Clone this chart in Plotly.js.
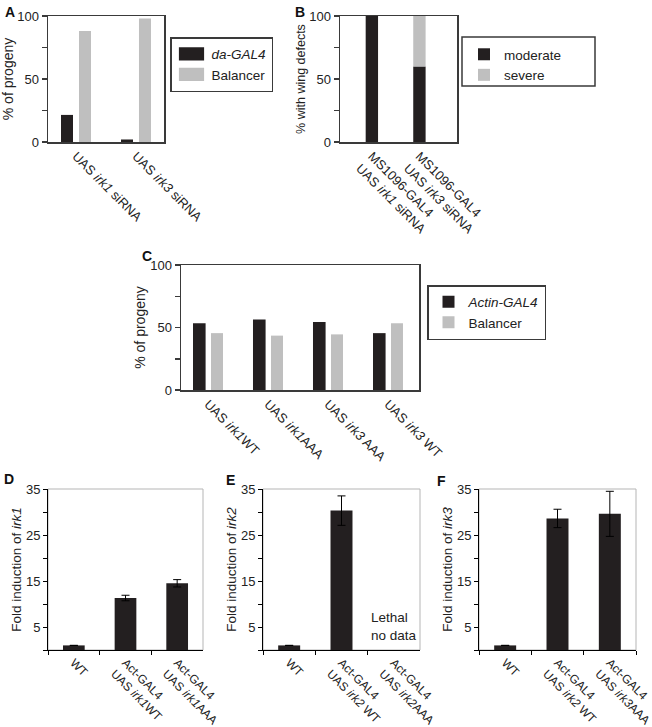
<!DOCTYPE html>
<html><head><meta charset="utf-8">
<script src="https://cdn.plot.ly/plotly-3.0.1.min.js"></script>
<style>html,body{margin:0;padding:0;background:#fff}#chart{width:652px;height:727px}</style>
</head><body><div id="chart"></div>
<script>
// ---------- data ----------
// Panel A
const catsA = ['UAS <i>irk1</i> siRNA', 'UAS <i>irk3</i> siRNA'];
const daGal4A = [21.5, 2];
const balancerA = [88, 98];
// Panel B
const catsB = ['MS1096-GAL4<br>UAS <i>irk1</i> siRNA', 'MS1096-GAL4<br>UAS <i>irk3</i> siRNA'];
const moderateB = [100, 60];
const severeB = [0, 40];
// Panel C
const catsC = ['UAS <i>irk1</i>WT', 'UAS <i>irk1</i>AAA', 'UAS <i>irk3</i> AAA', 'UAS <i>irk3</i> WT'];
const actinC = [53.5, 56.5, 54.5, 45.5];
const balancerC = [45.5, 43.5, 44.5, 53.5];
// Panel D
const catsD = ['WT', 'Act-GAL4<br>UAS <i>irk1</i>WT', 'Act-GAL4<br>UAS <i>irk1</i>AAA'];
const foldD = [1, 11.3, 14.5];
const errD = [null, 0.6, 0.8];
// Panel E
const catsE = ['WT', 'Act-GAL4<br>UAS <i>irk2</i> WT', 'Act-GAL4<br>UAS <i>irk2</i>AAA'];
const foldE = [1, 30.3, null];
const errE = [null, 3.2, null];
// Panel F
const catsF = ['WT', 'Act-GAL4<br>UAS <i>irk2</i> WT', 'Act-GAL4<br>UAS <i>irk3</i>AAA'];
const foldF = [1, 28.6, 29.6];
const errF = [null, 2.0, 4.9];
// tick labels
const pctTicks = [0, 25, 50, 75, 100];
const pctTickText = ['0', '', '50', '', '100'];
const foldTicks = [0, 5, 10, 15, 20, 25, 30, 35];
const foldTickText = ['', '5', '', '15', '', '25', '', '35'];

// ---------- layout helpers ----------
const W = 652, H = 727;
const px = (l, r) => [l / W, r / W];
const py = (t, b) => [1 - b / H, 1 - t / H];
const FONT = '"Liberation Sans",Arial,sans-serif';
const BLACK = '#231f20', GRAY = '#bfbfbf', LINE = '#3a3a3a', TXT = '#222';

function boxX(dom, anchor, range) {
  return {domain: dom, anchor: anchor, type: 'category', range: range, showline: true, mirror: true,
    linecolor: LINE, linewidth: 1.5, ticks: '', tickangle: 45, tickfont: {size: 13, color: TXT},
    showgrid: false, zeroline: false, fixedrange: true};
}
function boxY(dom, anchor, title, tsize) {
  return {domain: dom, anchor: anchor, range: [0, 100], tickvals: pctTicks, ticktext: pctTickText,
    ticks: 'outside', ticklen: 5, tickwidth: 1.5, tickcolor: LINE, showline: true, mirror: true,
    linecolor: LINE, linewidth: 1.5, showgrid: false, zeroline: false, tickfont: {size: 13, color: TXT},
    title: {text: title, font: {size: tsize, color: TXT}, standoff: 1}, fixedrange: true};
}
function foldX(dom, anchor) {
  return {domain: dom, anchor: anchor, type: 'category', range: [-0.5, 2.5], showline: true,
    linecolor: '#000', linewidth: 1, ticks: 'outside', tickson: 'boundaries', ticklen: 4, tickcolor: '#000',
    tickangle: 45, tickfont: {size: 12, color: TXT}, showgrid: false, zeroline: false, fixedrange: true};
}
function foldY(dom, anchor, title) {
  return {domain: dom, anchor: anchor, range: [0, 35], tickvals: foldTicks, ticktext: foldTickText,
    ticks: 'outside', ticklen: 4, tickcolor: '#000', showline: true, linecolor: '#000', linewidth: 1,
    showgrid: false, zeroline: false, tickfont: {size: 13, color: TXT},
    title: {text: title, font: {size: 13.5, color: TXT}, standoff: 1}, fixedrange: true};
}
function foldBar(x, y, err, xa, ya) {
  return {type: 'bar', x: x, y: y, xaxis: xa, yaxis: ya, width: 0.42, showlegend: false,
    marker: {color: BLACK, line: {width: 0}},
    error_y: {type: 'data', array: err, visible: true, color: '#000', thickness: 1, width: 4}};
}

const traces = [
  {type: 'bar', x: catsA, y: daGal4A, name: '<i>da-GAL4</i>', xaxis: 'x', yaxis: 'y', legend: 'legend',
    width: 0.2, offset: -0.25, marker: {color: BLACK}},
  {type: 'bar', x: catsA, y: balancerA, name: 'Balancer', xaxis: 'x', yaxis: 'y', legend: 'legend',
    width: 0.2, offset: 0.05, marker: {color: GRAY}},
  {type: 'bar', x: catsB, y: moderateB, name: 'moderate', xaxis: 'x2', yaxis: 'y2', legend: 'legend2',
    width: 0.26, offset: -0.13, marker: {color: BLACK}},
  {type: 'bar', x: catsB, y: severeB, base: moderateB, name: 'severe', xaxis: 'x2', yaxis: 'y2', legend: 'legend2',
    width: 0.26, offset: -0.13, marker: {color: GRAY}},
  {type: 'bar', x: catsC, y: actinC, name: '<i>Actin-GAL4</i>', xaxis: 'x3', yaxis: 'y3', legend: 'legend3',
    width: 0.21, offset: -0.25, marker: {color: BLACK}},
  {type: 'bar', x: catsC, y: balancerC, name: 'Balancer', xaxis: 'x3', yaxis: 'y3', legend: 'legend3',
    width: 0.2, offset: 0.05, marker: {color: GRAY}},
  foldBar(catsD, foldD, errD, 'x4', 'y4'),
  foldBar(catsE, foldE, errE, 'x5', 'y5'),
  foldBar(catsF, foldF, errF, 'x6', 'y6')
];

function legendAt(l, t, extra) {
  return Object.assign({x: l / W, y: 1 - t / H, xanchor: 'left', yanchor: 'top', bgcolor: '#fff',
    bordercolor: LINE, borderwidth: 1.5, font: {family: FONT, size: 13.5, color: TXT},
    tracegroupgap: 0, itemwidth: 30, traceorder: 'normal'}, extra || {});
}
function frame(xa, ya) {
  return {type: 'rect', xref: xa + ' domain', yref: ya + ' domain', x0: 0, x1: 1, y0: 0, y1: 1,
    line: {color: '#b5b5b5', width: 1}, layer: 'below'};
}
function paperBox(l, t, r, b) {
  return {type: 'rect', xref: 'paper', yref: 'paper', x0: l / W, x1: r / W, y0: 1 - b / H, y1: 1 - t / H,
    line: {color: LINE, width: 1.5}, fillcolor: 'rgba(0,0,0,0)', layer: 'above'};
}
function letter(t, x, y) {
  return {text: '<b>' + t + '</b>', xref: 'paper', yref: 'paper', x: x / W, y: 1 - y / H,
    xanchor: 'center', yanchor: 'middle', showarrow: false,
    font: {family: FONT, size: 14, color: '#111'}};
}

const layout = {
  width: W, height: H, margin: {l: 0, r: 0, t: 0, b: 0},
  paper_bgcolor: '#fff', plot_bgcolor: 'rgba(0,0,0,0)',
  font: {family: FONT, color: TXT},
  barmode: 'overlay',
  xaxis: boxX(px(48, 164), 'y', [-0.467, 1.467]),
  yaxis: boxY(py(16, 142), 'x', '% of progeny', 14),
  xaxis2: boxX(px(340, 457), 'y2', [-0.67, 1.79]),
  yaxis2: boxY(py(16, 142), 'x2', '% with wing defects', 12.5),
  xaxis3: boxX(px(181, 419), 'y3', [-0.45, 3.517]),
  yaxis3: boxY(py(265, 390), 'x3', '% of progeny', 14),
  xaxis4: foldX(px(48, 203), 'y4'),
  yaxis4: foldY(py(489, 650), 'x4', 'Fold induction of <i>irk1</i>'),
  xaxis5: foldX(px(263, 420), 'y5'),
  yaxis5: foldY(py(489, 650), 'x5', 'Fold induction of <i>irk2</i>'),
  xaxis6: foldX(px(479, 636), 'y6'),
  yaxis6: foldY(py(489, 650), 'x6', 'Fold induction of <i>irk3</i>'),
  legend: legendAt(170, 37),
  legend2: legendAt(464, 39, {borderwidth: 0, bgcolor: 'rgba(0,0,0,0)'}),
  legend3: legendAt(427, 285),
  shapes: [frame('x4', 'y4'), frame('x5', 'y5'), frame('x6', 'y6'), paperBox(462, 37, 595, 86)],
  annotations: [
    letter('A', 10, 12), letter('B', 300, 12), letter('C', 147, 256),
    letter('D', 9, 479), letter('E', 230, 480), letter('F', 441, 481),
    {text: 'Lethal<br>no data', xref: 'x5', yref: 'y5', x: catsE[2], y: 5.2, showarrow: false,
      align: 'left', font: {size: 13.5, color: TXT}}
  ]
};

Plotly.newPlot('chart', traces, layout, {staticPlot: true, displayModeBar: false}).then(function () {
  document.querySelectorAll('.legend .legendpoints path').forEach(function (p) {
    const t = p.getAttribute('transform') || '';
    p.setAttribute('transform', t + ' scale(2.1,1.1)');
  });
});
</script>
</body></html>
